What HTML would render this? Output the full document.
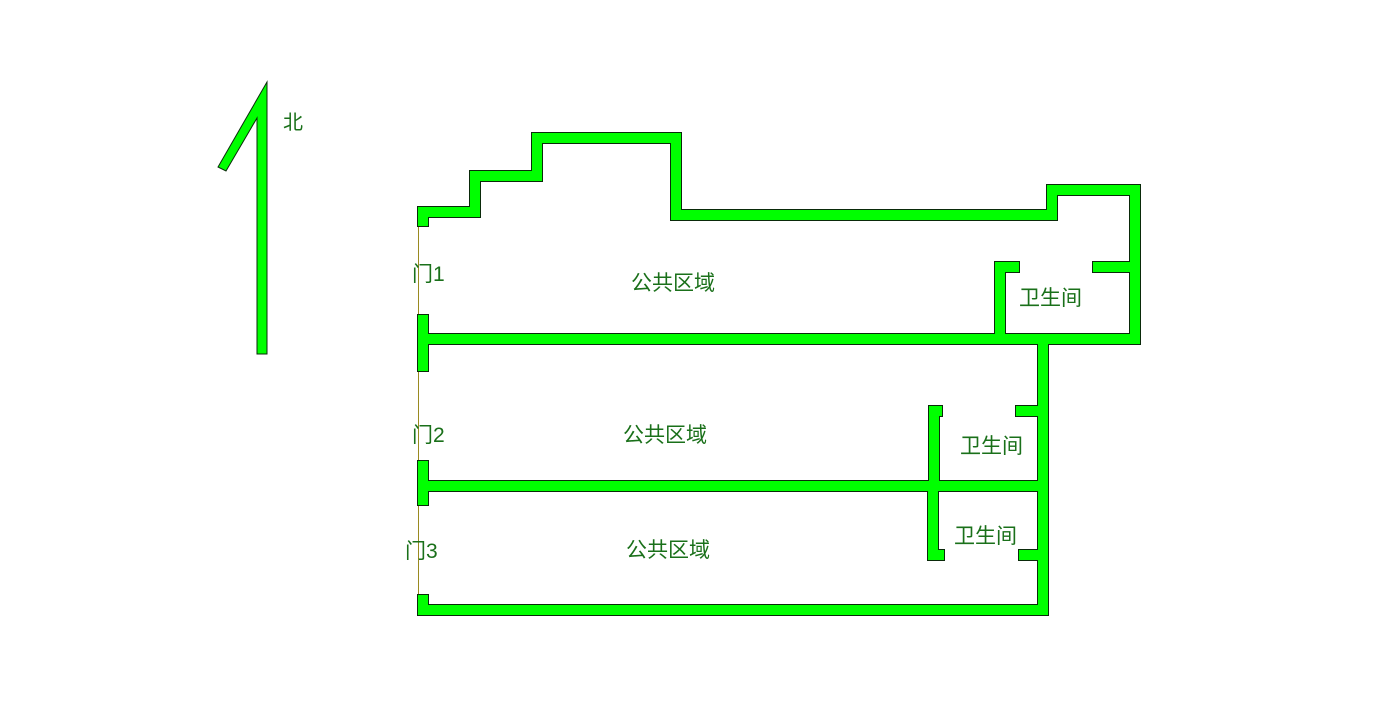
<!DOCTYPE html>
<html><head><meta charset="utf-8"><style>
html,body{margin:0;padding:0;background:#fff;}
svg{display:block}
text{font-family:"Liberation Sans","Noto Sans CJK SC",sans-serif;font-size:21px;fill:#1a701a;}
</style></head><body>
<svg width="1382" height="712" viewBox="0 0 1382 712" xmlns="http://www.w3.org/2000/svg">
<line x1="418.5" y1="220" x2="418.5" y2="615" stroke="#9a8a20" stroke-width="1"/>
<g fill="#0a2a0a">
<rect x="417" y="206" width="64" height="12"/>
<rect x="417" y="206" width="12" height="21"/>
<rect x="469" y="170" width="12" height="48"/>
<rect x="469" y="170" width="74" height="12"/>
<rect x="531" y="132" width="12" height="50"/>
<rect x="531" y="132" width="151" height="12"/>
<rect x="670" y="132" width="12" height="89"/>
<rect x="670" y="209" width="388" height="12"/>
<rect x="1046" y="184" width="12" height="37"/>
<rect x="1046" y="184" width="95" height="12"/>
<rect x="1129" y="184" width="12" height="161"/>
<rect x="1092" y="261" width="49" height="12"/>
<rect x="994" y="261" width="26" height="12"/>
<rect x="994" y="261" width="12" height="84"/>
<rect x="417" y="333" width="724" height="12"/>
<rect x="417" y="314" width="12" height="58"/>
<rect x="1037" y="333" width="12" height="283"/>
<rect x="928" y="405" width="12" height="87"/>
<rect x="928" y="405" width="15" height="12"/>
<rect x="1015" y="405" width="34" height="12"/>
<rect x="417" y="480" width="632" height="12"/>
<rect x="417" y="460" width="12" height="46"/>
<rect x="927" y="480" width="12" height="81"/>
<rect x="927" y="549" width="18" height="12"/>
<rect x="1018" y="549" width="31" height="12"/>
<rect x="417" y="604" width="632" height="12"/>
<rect x="417" y="594" width="12" height="22"/>
</g>
<g fill="#00ff00">
<rect x="418" y="207" width="62" height="10"/>
<rect x="418" y="207" width="10" height="19"/>
<rect x="470" y="171" width="10" height="46"/>
<rect x="470" y="171" width="72" height="10"/>
<rect x="532" y="133" width="10" height="48"/>
<rect x="532" y="133" width="149" height="10"/>
<rect x="671" y="133" width="10" height="87"/>
<rect x="671" y="210" width="386" height="10"/>
<rect x="1047" y="185" width="10" height="35"/>
<rect x="1047" y="185" width="93" height="10"/>
<rect x="1130" y="185" width="10" height="159"/>
<rect x="1093" y="262" width="47" height="10"/>
<rect x="995" y="262" width="24" height="10"/>
<rect x="995" y="262" width="10" height="82"/>
<rect x="418" y="334" width="722" height="10"/>
<rect x="418" y="315" width="10" height="56"/>
<rect x="1038" y="334" width="10" height="281"/>
<rect x="929" y="406" width="10" height="85"/>
<rect x="929" y="406" width="13" height="10"/>
<rect x="1016" y="406" width="32" height="10"/>
<rect x="418" y="481" width="630" height="10"/>
<rect x="418" y="461" width="10" height="44"/>
<rect x="928" y="481" width="10" height="79"/>
<rect x="928" y="550" width="16" height="10"/>
<rect x="1019" y="550" width="29" height="10"/>
<rect x="418" y="605" width="630" height="10"/>
<rect x="418" y="595" width="10" height="20"/>
</g>
<polygon points="257,354 267,354 267,82 218,167 226,171 257,118" fill="#00ff00" stroke="#0a2a0a" stroke-width="1"/>
<text x="283" y="129" style="font-size:20px">北</text>
<text x="631" y="290">公共区域</text>
<text x="623" y="442">公共区域</text>
<text x="626" y="557">公共区域</text>
<text x="1019" y="305">卫生间</text>
<text x="960" y="453">卫生间</text>
<text x="954" y="543">卫生间</text>
<text x="412" y="281">门1</text>
<text x="412" y="442">门2</text>
<text x="405" y="558">门3</text>
</svg>
</body></html>
